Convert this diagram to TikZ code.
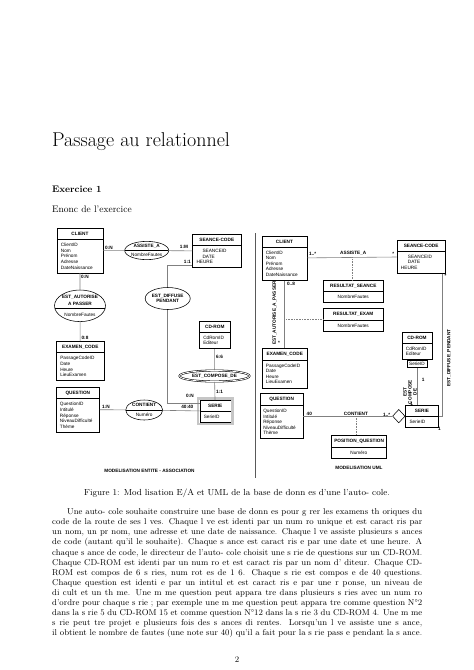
\documentclass[tikz,border=0pt]{standalone}
\usepackage{fontspec}
\newfontfamily\diagfont{Liberation Sans}
\usetikzlibrary{shapes.geometric,shapes.multipart,positioning}
\newcommand{\dg}{\diagfont\fontsize{4.7}{5.6}\selectfont\hyphenpenalty=10000 }

\tikzset{
  entity/.style={draw, line width=0.55pt, rectangle split, rectangle split parts=2,
    align=left, font=\dg, inner xsep=4pt, inner ysep=3.5pt, anchor=north west, text width=#1},
  relation/.style={draw, ellipse, line width=0.55pt, inner sep=0pt, font=\dg, align=center},
  splitat/.style={path picture={\draw[line width=0.5pt] ([yshift=#1]path picture bounding box.west)
    -- ([yshift=#1]path picture bounding box.east);}},
  card/.style={font=\dg\bfseries, inner sep=0pt},
  link/.style={draw=gray, line width=0.6pt},
  assoc/.style={draw=gray, line width=0.6pt, densely dotted},
}

\begin{document}
\begin{tikzpicture}[x=1pt,y=-1pt]
\useasboundingbox (0,0) rectangle (474,670);

% page head
\node[anchor=base west, inner sep=0pt, font=\fontsize{20}{24}\selectfont] (title) at (52,146) {Passage au relationnel};
\node[anchor=base west, inner sep=0pt, font=\fontsize{9.5}{12}\selectfont\bfseries] (exo) at (52,192) {Exercice 1};
\node[anchor=base west, inner sep=0pt, font=\fontsize{9.5}{12}\selectfont] (enonce) at (52,212) {Enonc de l'exercice};

% ---- entite - association
\node[entity=38pt] (eclient) at (56.7,228.3) {\centering\textbf{CLIENT}\par
  \nodepart{two}ClientID\\Nom\\Prénom\\Adresse\\DateNaissance};
\node[entity=40.4pt] (eseance) at (192.3,234.3) {\centering\textbf{SEANCE-CODE}\par
  \nodepart{two}\leftskip=6pt SEANCEID\\DATE\\HEURE};
\node[entity=40pt] (eexamen) at (56,341) {\centering\textbf{EXAMEN\_CODE}\par
  \nodepart{two}PassageCodeID\\Date\\Heure\\LieuExamen};
\node[entity=35.6pt] (equestion) at (55.7,386.7) {\centering\textbf{QUESTION}\par
  \nodepart{two}QuestionID\\Intitulé\\Réponse\\NiveauDifficulté\\Thème};
\node[entity=23pt] (ecdrom) at (199,321) {\centering\textbf{CD-ROM}\par
  \nodepart{two}CdRomID\\Editeur};
\node[entity=23pt] (eserie) at (199.5,400) {\centering\textbf{SERIE}\par
  \nodepart{two}SerieID};
\draw[gray!45, line width=2.6pt] ([shift={(-1.6pt,1.6pt)}]eserie.north west)
  rectangle ([shift={(1.6pt,-1.6pt)}]eserie.south east);

\node[relation, splitat=0pt, minimum width=40pt, minimum height=17.6pt] (eassiste) at (146.7,250.5)
  {\textbf{ASSISTE\_A}\\[4pt]NombreFautes};
\node[relation, splitat=-2pt, minimum width=51pt, minimum height=31.6pt] (eautorise) at (80,305.8)
  {\textbf{EST\_AUTORISE}\\[1.7pt]\textbf{A PASSER}\\[5.4pt]NombreFautes};
\node[relation, minimum width=43.3pt, minimum height=22pt] (ediffuse) at (167.7,298.5)
  {\textbf{EST\_DIFFUSE}\\\textbf{PENDANT}};
\node[relation, double, double distance=0.8pt, minimum width=70pt, minimum height=11pt] (ecompose) at (214.5,376)
  {\textbf{EST\_COMPOSE\_DE}};
\node[relation, splitat=0pt, minimum width=37pt, minimum height=20pt] (econtient) at (144.2,410)
  {\textbf{CONTIENT}\\[4pt]Numéro};

\draw[link] (eclient) -- (eassiste) -- (eseance);
\draw[link] ([yshift=-13.8pt]eseance.west) -| (ediffuse);
\draw[link] (ediffuse) |- ([yshift=8pt]eserie.west);
\draw[link] (eclient) -- (eautorise) -- (eexamen);
\draw[link] (ecdrom) -- (ecompose) -- (eserie);
\draw[link] (equestion) -- (econtient) -- (eserie);

\node[card] (c1) at (109,247.7) {0:N};
\node[card] (c2) at (184,246.7) {1:M};
\node[card] (c3) at (187.3,261.7) {1:1};
\node[card] (c4) at (85,276.7) {0:N};
\node[card] (c5) at (85,337.7) {0:8};
\node[card] (c6) at (219.5,357) {6:6};
\node[card] (c7) at (219.5,392) {1:1};
\node[card] (c8) at (190,396) {0:N};
\node[card] (c9) at (187.3,406.5) {40:40};
\node[card] (c10) at (106,406.7) {1:N};
\node[card] (mea) at (149.5,470.7) {MODELISATION ENTITE - ASSOCIATION};

\draw[gray!70!black, line width=0.6pt] (255,233) -- (255,478);

% ---- uml
\node[entity=37pt] (uclient) at (261.7,235.7) {\centering\textbf{CLIENT}\par
  \nodepart{two}ClientID\\Nom\\Prénom\\Adresse\\DateNaissance};
\node[entity=40.3pt] (useance) at (396.7,240) {\centering\textbf{SEANCE-CODE}\par
  \nodepart{two}\leftskip=7pt SEANCEID\\DATE\\HEURE};
\node[entity=51.4pt] (urseance) at (323.3,280) {\centering\textbf{RESULTAT\_SEANCE}\par
  \nodepart{two}\centering NombreFautes\par};
\node[entity=51.4pt] (urexam) at (323.3,308.3) {\centering\textbf{RESULTAT\_EXAM}\par
  \nodepart{two}\centering NombreFautes\par};
\node[entity=37.6pt] (uexamen) at (261.7,348.3) {\centering\textbf{EXAMEN\_CODE}\par
  \nodepart{two}PassageCodeID\\Date\\Heure\\LieuExamen};
\node[entity=36.7pt, inner xsep=3pt] (uquestion) at (260,393.3) {\centering\textbf{QUESTION}\par
  \nodepart{two}QuestionID\\Intitulé\\Réponse\\NiveauDifficulté\\Thème};
\node[draw, diamond, line width=0.55pt, minimum width=12.5pt, minimum height=13.5pt, inner sep=0pt,
  right=89pt of uquestion] (ucontient) {};
\node[entity=24.7pt, right=0pt of ucontient] (userie) {\centering\textbf{SERIE}\par
  \nodepart{two}SerieID};
\node[entity=49pt, inner xsep=3pt] (uposq) at (331,435) {\centering\textbf{POSITION\_QUESTION}\par
  \nodepart{two}\centering Numéro\par};
\node[entity=22pt] (ucdrom) at (401.7,331.7) {\centering\textbf{CD-ROM}\par
  \nodepart{two}CdRomID\\Editeur};
\node[draw, line width=0.55pt, font=\dg, inner sep=0pt, minimum width=20pt, minimum height=7.7pt,
  below=0pt of ucdrom] (uqual) {SerieID};

\draw[link] (uclient) -- coordinate (uamid) (useance);
\draw[assoc] (uamid) -- (uamid |- urseance.north);
\draw[link] (uclient.south) -- (uclient.south |- uexamen.north);
\draw[assoc] (urexam.west) -- (urexam.west -| uclient.south);
\draw[link] (uquestion) -- coordinate[pos=0.6] (uqmid) (ucontient);
\draw[assoc] (uqmid) -- (uqmid |- uposq.north);
\draw[link] (uqual.south) -- (uqual.south |- userie.north);
\draw[link] ([xshift=21pt]useance.south) |- (userie.east);

\node[card] (u1) at (312.7,254.3) {1..*};
\node[card] (u2) at (353.3,253.3) {ASSISTE\_A};
\node[card] (u3) at (393.3,254.3) {*};
\node[card] (u4) at (291,283.5) {0..8};
\node[card] (u5) at (279,343.3) {*};
\node[card, rotate=90] (u6) at (274.5,313) {EST\_AUTORISE\_A\_PASSER};
\node[card] (u7) at (445.5,276) {*};
\node[card, rotate=90] (u8) at (449,358) {EST\_DIFFUSE\_PENDANT};
\node[card] (u9) at (439.5,429) {1};
\node[card] (u10) at (309.3,414) {40};
\node[card] (u11) at (356,413.5) {CONTIENT};
\node[card] (u12) at (386.7,415) {1..*};
\node[card] (u13) at (423.3,380) {1};
\node[card] (u14) at (411.7,404) {1};
\node[card, rotate=90, align=center] (u15) at (410,392) {EST\\[-0.6pt]COMPOSE\\[-0.6pt]DE};
\node[card] (mu) at (359,468.3) {MODELISATION UML};

% ---- caption and text
\node[anchor=base, inner sep=0pt, font=\fontsize{8.8}{10}\selectfont] (cap) at (237,495)
  {Figure 1: Mod lisation E/A et UML de la base de donn es d'une l'auto- cole.};
\node[anchor=north west, inner sep=0pt, text width=370pt, align=justify,
  font=\fontsize{8.5}{10.1}\selectfont] (body) at (52,508.5) {\tolerance=10000
\hspace*{15pt}Une auto- cole souhaite construire une base de donn es pour g rer les examens th oriques du\linebreak
code de la route de ses  l ves. Chaque  l ve est identi  par un num ro unique et est caract ris  par\linebreak
un nom, un pr nom, une adresse et une date de naissance. Chaque  l ve assiste  plusieurs s ances\linebreak
de code (autant qu'il le souhaite). Chaque s ance est caract ris e par une date et une heure. A\linebreak
chaque s ance de code, le directeur de l'auto- cole choisit une s rie de questions sur un CD-ROM.\linebreak
Chaque CD-ROM est identi par un num ro et est caract ris par un nom d' diteur. Chaque CD-\linebreak
ROM est compos de 6 s ries, num rot es de 1 6. Chaque s rie est compos e de 40 questions.\linebreak
Chaque question est identi e par un intitul et est caract ris e par une r ponse, un niveau de\linebreak
di cult et un th me. Une m me question peut appara tre dans plusieurs s ries avec un num ro\linebreak
d'ordre pour chaque s rie ; par exemple une m me question peut appara tre comme question N\textdegree2\linebreak
dans la s rie 5 du CD-ROM 15 et comme question N\textdegree12 dans la s rie 3 du CD-ROM 4. Une m me\linebreak
s rie peut  tre projet e plusieurs fois   des s ances di rentes. Lorsqu'un  l ve assiste   une s ance,\linebreak
il obtient le nombre de fautes (une note sur 40) qu'il a fait pour la s rie pass e pendant la s ance.};
\node[anchor=base, inner sep=0pt, font=\fontsize{8.5}{10}\selectfont] (page) at (237,662) {2};
\end{tikzpicture}
\end{document}
